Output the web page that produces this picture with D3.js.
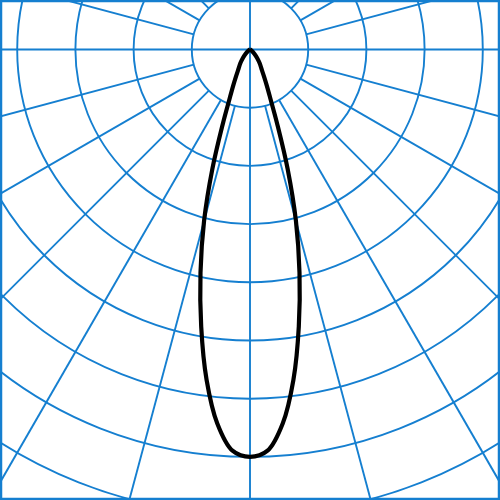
<!DOCTYPE html>
<html>
<head>
<meta charset="utf-8">
<script src="https://cdn.jsdelivr.net/npm/d3@7"></script>
<style>
  html, body { margin: 0; padding: 0; background: #fff; }
  svg { display: block; }
</style>
</head>
<body>
<svg id="chart" width="500" height="500"></svg>
<script>
'use strict';

// angle from nadir (degrees) and intensity (arbitrary cd/klm units)
const angles = [0, 2.5, 5, 7.5, 10, 12.5, 15, 17.5, 20, 22.5, 25, 27.5, 30, 35, 40, 45, 50, 60, 70, 80, 90];
const intensity = [700, 690, 645, 572, 483, 393, 305, 215, 138, 92, 68, 52, 41, 29, 19, 11, 6, 2, 0.5, 0, 0];

// grid
const ringValues = [100, 200, 300, 400, 500, 600, 700, 800, 900];
const spokeAngles = d3.range(0, 360, 15);

const gridColor = '#157fd0';

let width = 500;
let height = 500;
let cx = 250;
let cy = 49.5;

let svg = d3.select('#chart');

let r = d3.scaleLinear()
    .domain([0, 100])
    .range([0, 58.2]);

let g = svg.append('g')
    .attr('transform', 'translate(' + cx + ',' + cy + ')');

// rings
g.selectAll('circle.ring')
    .data(ringValues)
    .enter()
    .append('circle')
    .attr('class', 'ring')
    .attr('r', d => r(d))
    .attr('fill', 'none')
    .attr('stroke', gridColor)
    .attr('stroke-width', 1.9);

// spokes: the axes pass through the centre, the others start at the first ring
g.selectAll('line.spoke')
    .data(spokeAngles)
    .enter()
    .append('line')
    .attr('class', 'spoke')
    .each(function(d) {
        let a = d * Math.PI / 180;
        let r0 = (d % 90 === 0) ? 0 : r(ringValues[0]);
        let r1 = r(1000);
        d3.select(this)
            .attr('x1', r0 * Math.sin(a))
            .attr('y1', r0 * Math.cos(a))
            .attr('x2', r1 * Math.sin(a))
            .attr('y2', r1 * Math.cos(a));
    })
    .attr('stroke', gridColor)
    .attr('stroke-width', 1.9);

// frame
svg.append('rect')
    .attr('x', 1)
    .attr('y', 1)
    .attr('width', width - 2)
    .attr('height', height - 2)
    .attr('fill', 'none')
    .attr('stroke', gridColor)
    .attr('stroke-width', 2.5);

// distribution curve, mirrored on both sides of nadir
let pts = [];
for (let i = angles.length - 1; i >= 0; i--) {
    pts.push({ a: Math.PI + angles[i] * Math.PI / 180, v: intensity[i] });
}
for (let i = 1; i < angles.length; i++) {
    pts.push({ a: Math.PI - angles[i] * Math.PI / 180, v: intensity[i] });
}

let line = d3.lineRadial()
    .angle(d => d.a)
    .radius(d => r(d.v))
    .curve(d3.curveCatmullRom);

g.append('path')
    .datum(pts)
    .attr('d', line)
    .attr('fill', 'none')
    .attr('stroke', '#000')
    .attr('stroke-width', 4.2)
    .attr('stroke-linejoin', 'round');
</script>
</body>
</html>
